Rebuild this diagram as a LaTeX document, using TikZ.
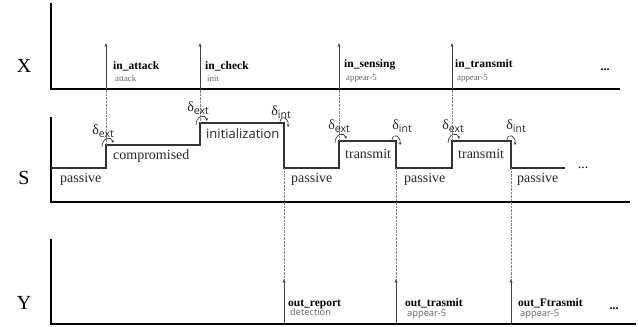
\documentclass[tikz,border=0pt]{standalone}
\usepackage{fontspec}
\setmainfont{Liberation Serif}
\newfontfamily\osans{Open Sans}
\usetikzlibrary{arrows.meta}
\newcommand\dlab[1]{{\fontsize{14}{14}\selectfont δ}\raisebox{-2.5pt}{\osans\fontsize{10.5}{11}\selectfont #1}}
\begin{document}
\begin{tikzpicture}[x=1pt,y=-1pt,
 axisln/.style={line width=2pt, black},
 sigln/.style={line width=1.1pt, black!80},
 evt/.style={line width=0.9pt, black!75, -{Stealth[length=4pt,width=3pt]}},
 guide/.style={densely dotted, line width=0.4pt, gray},
 deltarr/.style={line width=0.6pt, black!80, -{Stealth[length=2.8pt,width=2.6pt]}},
 axlbl/.style={font=\fontsize{20}{20}\selectfont, inner sep=0},
 inlbl/.style={font=\bfseries\fontsize{11.5}{12}\selectfont, anchor=base west, inner sep=0},
 sublbl/.style={font=\fontsize{8.8}{9}\selectfont, text=black!60, anchor=base west, inner sep=0},
 sanssub/.style={font=\osans\fontsize{9.3}{9}\selectfont, text=black!60, anchor=base west, inner sep=0},
 stlbl/.style={font=\fontsize{14}{14}\selectfont, text=black!85, anchor=base west, inner sep=0},
 initlbl/.style={font=\osans\fontsize{13}{13}\selectfont, text=black!85, anchor=base west, inner sep=0},
 dots/.style={font=\bfseries\fontsize{12}{12}\selectfont, anchor=base, inner sep=0},
 dlbl/.style={inner sep=0, text=black!85}]
\useasboundingbox (0,0) rectangle (638,327);

% axes
\coordinate (xt) at (51,3);   \coordinate (xo) at (51,88.5);  \coordinate (xe) at (620,88.5);
\coordinate (st) at (51,117); \coordinate (so) at (51,202);   \coordinate (se) at (630,202);
\coordinate (yt) at (51,239); \coordinate (yo) at (51,324);   \coordinate (ye) at (636,324);
\draw[axisln] (xt) -- (xo) -- (xe);
\draw[axisln] (st) -- (so) -- (se);
\draw[axisln] (yt) -- (yo) -- (ye);
\node[axlbl] (lx) at (24,66) {X};
\node[axlbl] (ls) at (24,178) {S};
\node[axlbl] (ly) at (24,303) {Y};

% state signal
\coordinate (p0) at (51,168);  \coordinate (p1) at (106,168); \coordinate (p2) at (106,145);
\coordinate (p3) at (200,145); \coordinate (p4) at (200,123); \coordinate (p5) at (284,123);
\coordinate (p6) at (284,168); \coordinate (p7) at (339,168); \coordinate (p8) at (339,141);
\coordinate (p9) at (396,141); \coordinate (p10) at (396,168); \coordinate (p11) at (452,168);
\coordinate (p12) at (452,141); \coordinate (p13) at (511,141); \coordinate (p14) at (511,168);
\coordinate (p15) at (565,168);
\draw[sigln] (p0) -- (p1) -- (p2) -- (p3) -- (p4) -- (p5) -- (p6) -- (p7) -- (p8) -- (p9)
  -- (p10) -- (p11) -- (p12) -- (p13) -- (p14) -- (p15);

% input events
\coordinate (a1) at (106,89.5); \coordinate (a1t) at (106,43);
\coordinate (a2) at (200,89.5); \coordinate (a2t) at (200,43);
\coordinate (a3) at (339,89.5); \coordinate (a3t) at (339,43);
\coordinate (a4) at (452,89.5); \coordinate (a4t) at (452,43);
\draw[guide] (a1) -- (p2);
\draw[guide] (a2) -- (p4);
\draw[guide] (a3) -- (p8);
\draw[guide] (a4) -- (p12);
\draw[evt] (a1) -- (a1t);
\draw[evt] (a2) -- (a2t);
\draw[evt] (a3) -- (a3t);
\draw[evt] (a4) -- (a4t);
\node[inlbl] (i1) at (113,69.5) {in\_attack};
\node[sublbl] (i1s) at (115,81) {attack};
\node[inlbl] (i2) at (205,69.5) {in\_check};
\node[sublbl] (i2s) at (207,81) {init};
\node[inlbl] (i3) at (344,67.5) {in\_sensing};
\node[sublbl] (i3s) at (346,80.5) {appear-5};
\node[inlbl] (i4) at (455,67.5) {in\_transmit};
\node[sublbl] (i4s) at (457,80.5) {appear-5};
\node[dots] (xd) at (605,70) {...};

% output events
\coordinate (b1) at (284,323); \coordinate (b1t) at (284,279);
\coordinate (b2) at (396,323); \coordinate (b2t) at (396,279);
\coordinate (b3) at (511,323); \coordinate (b3t) at (511,279);
\draw[guide] (p6) -- (b1t);
\draw[guide] (p10) -- (b2t);
\draw[guide] (p14) -- (b3t);
\draw[evt] (b1) -- (b1t);
\draw[evt] (b2) -- (b2t);
\draw[evt] (b3) -- (b3t);
\node[inlbl] (o1) at (288,306) {out\_report};
\node[sanssub] (o1s) at (290,315) {detection};
\node[inlbl] (o2) at (405,306) {out\_trasmit};
\node[sanssub] (o2s) at (407,316) {appear-5};
\node[inlbl] (o3) at (518,306) {out\_Ftrasmit};
\node[sanssub] (o3s) at (520,316) {appear-5};
\node[dots] (yd) at (614,309) {...};

% state labels
\node[stlbl] (s1) at (60,182) {passive};
\node[stlbl] (s2) at (113,159) {compromised};
\node[initlbl] (s3) at (206,138) {initialization};
\node[stlbl] (s4) at (291,182) {passive};
\node[stlbl] (s5) at (345,158) {transmit};
\node[stlbl] (s6) at (404,182) {passive};
\node[stlbl] (s7) at (458,158) {transmit};
\node[stlbl] (s8) at (517,182) {passive};
\node[font=\fontsize{14}{14}\selectfont, anchor=base, inner sep=0] (sd) at (583,168) {...};

% transitions
\node[dlbl] (d1) at (103,131) {\dlab{ext}};
\node[dlbl] (d2) at (198,108) {\dlab{ext}};
\node[dlbl] (d3) at (281,112) {\dlab{int}};
\node[dlbl] (d4) at (339,126) {\dlab{ext}};
\node[dlbl] (d5) at (402,126) {\dlab{int}};
\node[dlbl] (d6) at (453,126) {\dlab{ext}};
\node[dlbl] (d7) at (516,126) {\dlab{int}};
\draw[deltarr] ([shift={(-4,2)}]p2) .. controls +(0,-10) and +(-1,-7) .. ([shift={(7,-2)}]p2);
\draw[deltarr] ([shift={(-4,2)}]p4) .. controls +(0,-10) and +(-1,-7) .. ([shift={(7,-2)}]p4);
\draw[deltarr] ([shift={(-4,2)}]p8) .. controls +(0,-10) and +(-1,-7) .. ([shift={(7,-2)}]p8);
\draw[deltarr] ([shift={(-4,2)}]p12) .. controls +(0,-10) and +(-1,-7) .. ([shift={(7,-2)}]p12);
\draw[deltarr] ([shift={(-4,-1)}]p5) .. controls +(1,-8) and +(1,-9) .. ([shift={(4,4)}]p5);
\draw[deltarr] ([shift={(-4,-1)}]p9) .. controls +(1,-8) and +(1,-9) .. ([shift={(4,4)}]p9);
\draw[deltarr] ([shift={(-4,-1)}]p13) .. controls +(1,-8) and +(1,-9) .. ([shift={(4,4)}]p13);
\end{tikzpicture}
\end{document}
